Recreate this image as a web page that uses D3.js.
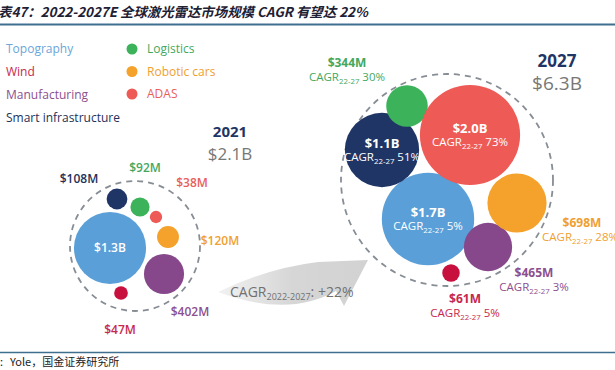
<!DOCTYPE html>
<html>
<head>
<meta charset="utf-8">
<script src="https://cdn.jsdelivr.net/npm/d3@7"></script>
<style>
  body { margin: 0; background: #fff; }
  svg { display: block; font-family: "Open Sans", sans-serif; }
</style>
</head>
<body>
<div id="chart"></div>
<script>
// Market segments and their sizes ($M)
const categories = ["Topography", "Wind", "Manufacturing", "Smart infrastructure", "Logistics", "Robotic cars", "ADAS"];
const value2021 = [1300, 47, 402, 108, 92, 120, 38];
const value2027 = [1700, 61, 465, 1100, 344, 698, 2000];
const cagr2227 = [5, 5, 3, 51, 30, 28, 73];
const years = ["2021", "2027"];
const totalLabels = ["$2.1B", "$6.3B"];
const overallCagr = "+22%";

const colors = ["#5a9fd8", "#c8103e", "#86488a", "#1f3566", "#3cb25a", "#f4a22b", "#ee5a55"];
const textColors = ["#6aa6d8", "#c8284e", "#8c4f8f", "#233158", "#45a860", "#f0a030", "#e8605a"];

// layout of the bubbles around each cluster centre (offsets), label positions
const layout2021 = [
    { dx: -25, dy: 2, inside: true },
    { dx: -14, dy: 47, lx: -15, ly: 84 },
    { dx: 29, dy: 28, lx: 55, ly: 66 },
    { dx: -18, dy: -47, lx: -56, ly: -67 },
    { dx: 5, dy: -39, lx: 10, ly: -78 },
    { dx: 33, dy: -9, lx: 85, ly: -5 },
    { dx: 21, dy: -29, lx: 57, ly: -63 }
];
const layout2027 = [
    { dx: -19, dy: 39, inside: true },
    { dx: 4, dy: 93, lx: 18, ly: 119 },
    { dx: 41, dy: 67, lx: 87, ly: 93 },
    { dx: -65, dy: -30, inside: true },
    { dx: -40, dy: -74, lx: -100, ly: -117 },
    { dx: 70, dy: 23, lx: 135, ly: 43, cx: 95 },
    { dx: 23, dy: -45, inside: true }
];

const width = 615, height = 370;
const svg = d3.select("#chart").append("svg")
    .attr("width", width)
    .attr("height", height);

function fmt(v) {
    return v >= 1000 ? "$" + (v / 1000).toFixed(1) + "B" : "$" + v + "M";
}

// CAGR line with subscript
function cagrText(g, x, y, pct, color, size, anchor) {
    const t = g.append("text")
        .attr("x", x).attr("y", y)
        .attr("text-anchor", anchor || "middle")
        .attr("fill", color)
        .style("font-size", size + "px");
    t.append("tspan").text("CAGR");
    t.append("tspan").attr("dy", 3).style("font-size", (size * 0.68) + "px").text("22-27");
    t.append("tspan").attr("dy", -3).text(" " + pct + "%");
}

// title
svg.append("text")
    .attr("x", -2).attr("y", 17)
    .attr("fill", "#1e2033")
    .style("font-family", "'Noto Sans CJK SC', sans-serif")
    .style("font-size", "13.4px")
    .style("font-weight", "bold")
    .style("font-style", "italic")
    .text("表47：2022-2027E 全球激光雷达市场规模 CAGR 有望达 22%");

svg.append("line").attr("x1", 0).attr("x2", width).attr("y1", 24.5).attr("y2", 24.5)
    .attr("stroke", "#3f6f8f").attr("stroke-width", 2);
svg.append("line").attr("x1", 0).attr("x2", width).attr("y1", 352.5).attr("y2", 352.5)
    .attr("stroke", "#3f6f8f").attr("stroke-width", 1.5);

const src = svg.append("text")
    .attr("y", 366)
    .attr("fill", "#222")
    .style("font-family", "'Noto Sans CJK SC', sans-serif")
    .style("font-size", "11px");
src.append("tspan").attr("x", 0).text(":");
src.append("tspan").attr("x", 10).text("Yole，国金证券研究所");

// legend
const legendLeft = [0, 1, 2, 3];
const legendRight = [4, 5, 6];
legendLeft.forEach((i, k) => {
    svg.append("text")
        .attr("x", 6).attr("y", 49 + k * 23)
        .attr("dy", "0.35em")
        .attr("fill", textColors[i])
        .style("font-size", "12px")
        .text(categories[i]);
});
legendRight.forEach((i, k) => {
    svg.append("circle")
        .attr("cx", 132).attr("cy", 49 + k * 22.5)
        .attr("r", 5.5)
        .attr("fill", colors[i]);
    svg.append("text")
        .attr("x", 147).attr("y", 49 + k * 22.5)
        .attr("dy", "0.35em")
        .attr("fill", textColors[i])
        .style("font-size", "12px")
        .text(categories[i]);
});

// arrow between the two clusters
const grad = svg.append("defs").append("linearGradient")
    .attr("id", "arrowGrad").attr("x1", "0%").attr("x2", "100%");
grad.append("stop").attr("offset", "0%").attr("stop-color", "#f2f2f2");
grad.append("stop").attr("offset", "50%").attr("stop-color", "#d6d6d6");
grad.append("stop").attr("offset", "100%").attr("stop-color", "#d2d2d2");
svg.append("path")
    .attr("d", "M218,292 Q268,268 318,262 L368,260 L344,306 L336,291 Q288,318 218,292 Z")
    .attr("fill", "url(#arrowGrad)");

const cg = svg.append("text")
    .attr("x", 230).attr("y", 297)
    .attr("fill", "#707070")
    .style("font-size", "14px");
cg.append("tspan").text("CAGR");
cg.append("tspan").attr("dy", 3).style("font-size", "9px").text("2022-2027");
cg.append("tspan").attr("dy", -3).text(": " + overallCagr);

// clusters
const clusters = [
    { year: years[0], total: totalLabels[0], values: value2021, layout: layout2021,
      cx: 135, cy: 246, ring: 65, k: 1.0, yearPos: [230, 137, 160], yearSize: 15, totalSize: 17 },
    { year: years[1], total: totalLabels[1], values: value2027, layout: layout2027,
      cx: 447, cy: 180, ring: 106, k: 1.12, yearPos: [557, 67, 90], yearSize: 17, totalSize: 19 }
];

clusters.forEach((c, ci) => {
    const g = svg.append("g").attr("transform", `translate(${c.cx},${c.cy})`);
    const rScale = d3.scaleSqrt()
        .domain([0, 2000])
        .range([0, Math.sqrt(2000) * c.k]);

    g.append("circle")
        .attr("r", c.ring)
        .attr("fill", "none")
        .attr("stroke", "#878d94")
        .attr("stroke-width", 1.8)
        .attr("stroke-dasharray", "6,5");

    c.values.forEach((v, i) => {
        const p = c.layout[i];
        g.append("circle")
            .attr("cx", p.dx).attr("cy", p.dy)
            .attr("r", rScale(v))
            .attr("fill", colors[i]);

        if (p.inside) {
            if (ci === 0) {
                g.append("text")
                    .attr("x", p.dx).attr("y", p.dy)
                    .attr("dy", "0.35em")
                    .attr("text-anchor", "middle")
                    .attr("fill", "#fff")
                    .style("font-size", "12px")
                    .style("font-weight", "600")
                    .text(fmt(v));
            } else {
                g.append("text")
                    .attr("x", p.dx).attr("y", p.dy - 7)
                    .attr("dy", "0.35em")
                    .attr("text-anchor", "middle")
                    .attr("fill", "#fff")
                    .style("font-size", "13px")
                    .style("font-weight", "700")
                    .text(fmt(v));
                cagrText(g, p.dx, p.dy + 11, cagr2227[i], "#fff", 11.5);
            }
        } else {
            g.append("text")
                .attr("x", p.lx).attr("y", p.ly)
                .attr("dy", "0.35em")
                .attr("text-anchor", "middle")
                .attr("fill", textColors[i])
                .style("font-size", "12px")
                .style("font-weight", ci === 1 ? "700" : "600")
                .text(fmt(v));
            if (ci === 1) {
                if (p.cx !== undefined) {
                    cagrText(g, p.cx, p.ly + 18, cagr2227[i], textColors[i], 11.5, "start");
                } else {
                    cagrText(g, p.lx, p.ly + 18, cagr2227[i], textColors[i], 11.5);
                }
            }
        }
    });

    svg.append("text")
        .attr("x", c.yearPos[0]).attr("y", c.yearPos[1])
        .attr("text-anchor", "middle")
        .attr("fill", "#1f3566")
        .style("font-size", c.yearSize + "px")
        .style("font-weight", "700")
        .text(c.year);
    svg.append("text")
        .attr("x", c.yearPos[0]).attr("y", c.yearPos[2])
        .attr("text-anchor", "middle")
        .attr("fill", "#777")
        .style("font-size", c.totalSize + "px")
        .text(c.total);
});
</script>
</body>
</html>
